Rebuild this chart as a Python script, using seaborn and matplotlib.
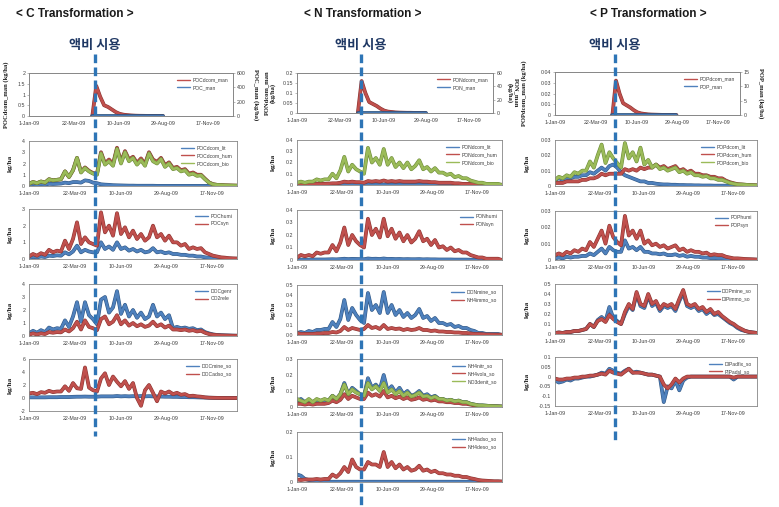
import matplotlib
matplotlib.use("Agg")
import matplotlib.pyplot as plt
import matplotlib.patheffects as pe
from matplotlib.lines import Line2D
import seaborn as sns
import pandas as pd

sns.set_theme(style="white")
plt.rcParams["font.family"] = ["Liberation Sans", "Noto Sans CJK KR", "DejaVu Sans"]

# weekly model output for 2009 (kg/ha)
weeks = pd.date_range("2009-01-01", periods=53, freq="7D")
man_weeks = pd.date_range("2009-04-24", periods=19, freq="7D")
fert_date = pd.Timestamp("2009-04-29")
tick_dates = pd.to_datetime(["2009-01-01", "2009-03-22", "2009-06-10", "2009-08-29", "2009-11-17"])

# ---- C transformation
POCdcom_man = [0, 1.4, 0.9, 0.5, 0.42, 0.3, 0.18, 0.1, 0.06, 0.04,
               0.025, 0.015, 0.01, 0.008, 0.005, 0.004, 0.003, 0.002, 0.001]
POC_man = [0, 0, 0, 0, 0, 0, 0, 0, 0, 0, 0, 0, 0, 0, 0, 0, 0, 0, 0]
POCdcom_lit = [0.1, 0.15, 0.1, 0.15, 0.12, 0.2, 0.18, 0.2, 0.22, 0.3,
               0.25, 0.35, 0.35, 0.3, 0.5, 0.45, 0.3, 0.25, 0.15, 0.12,
               0.1, 0.07, 0.06, 0.05, 0.04, 0.03, 0.03, 0.02, 0.02, 0.02,
               0.02, 0.02, 0.01, 0.01, 0.01, 0.01, 0.01, 0.01, 0.01, 0.01,
               0.01, 0.01, 0.01, 0.01, 0.01, 0.01, 0.01, 0.01, 0.01, 0.01,
               0.01, 0.01, 0.01]
POCdcom_hum = [0.2, 0.35, 0.25, 0.4, 0.3, 0.6, 0.5, 0.55, 0.6, 1.3,
               0.8, 1.4, 2.5, 1.25, 1.65, 1.35, 1.15, 1.1, 3.0, 2.0,
               2.35, 1.95, 3.4, 2.15, 3.1, 2.35, 2.6, 2.05, 2.45, 1.95,
               3.0, 2.35, 2.15, 2.5, 1.85, 2.1, 1.6, 1.7, 1.4, 1.5,
               1.1, 1.2, 1.0, 1.0, 0.65, 0.32, 0.16, 0.1, 0.08, 0.06,
               0.05, 0.04, 0.03]
POCdcom_bio = [0.2, 0.35, 0.25, 0.4, 0.3, 0.6, 0.5, 0.55, 0.6, 1.3,
               0.8, 1.4, 2.5, 1.2, 1.6, 1.3, 1.1, 1.0, 2.9, 1.9,
               2.2, 1.8, 3.3, 2.0, 3.0, 2.2, 2.5, 1.9, 2.3, 1.8,
               2.9, 2.2, 2.0, 2.4, 1.7, 2.0, 1.5, 1.6, 1.3, 1.4,
               1.0, 1.1, 0.9, 0.95, 0.6, 0.3, 0.15, 0.1, 0.08, 0.06,
               0.05, 0.04, 0.03]
POChumi = [0.08, 0.12, 0.1, 0.15, 0.12, 0.2, 0.18, 0.22, 0.2, 0.4,
           0.28, 0.45, 0.8, 0.4, 0.55, 0.45, 0.4, 0.4, 1.0, 0.6,
           0.75, 0.55, 1.0, 0.6, 0.7, 0.5, 0.6, 0.45, 0.55, 0.4,
           0.45, 0.65, 0.4, 0.45, 0.35, 0.4, 0.3, 0.3, 0.25, 0.25,
           0.2, 0.2, 0.15, 0.15, 0.1, 0.08, 0.05, 0.04, 0.03, 0.02,
           0.02, 0.01, 0.01]
POCsyn = [0.15, 0.3, 0.2, 0.35, 0.25, 0.55, 0.4, 0.5, 0.45, 1.1,
          0.6, 1.2, 2.2, 0.9, 1.3, 1.0, 0.9, 0.8, 2.8, 1.6,
          2.0, 1.4, 2.75, 1.5, 1.9, 1.3, 1.7, 1.2, 1.5, 1.1,
          1.3, 2.0, 1.3, 1.5, 1.1, 1.4, 1.0, 1.0, 0.8, 0.9,
          0.6, 0.7, 0.6, 0.65, 0.4, 0.3, 0.2, 0.15, 0.1, 0.08,
          0.05, 0.04, 0.03]
DOCgenr = [0.2, 0.4, 0.25, 0.45, 0.3, 0.65, 0.5, 0.6, 0.55, 1.2,
           0.7, 1.5, 2.6, 1.1, 2.6, 1.6, 1.3, 0.9, 2.8, 3.0,
           1.8, 2.2, 3.45, 1.7, 2.4, 1.5, 2.0, 1.4, 1.8, 1.3,
           1.5, 2.4, 1.5, 1.8, 1.3, 1.6, 0.6, 0.7, 0.6, 0.65,
           0.55, 0.6, 0.45, 0.5, 0.3, 0.2, 0.12, 0.08, 0.06, 0.05,
           0.04, 0.03, 0.02]
CO2rele = [0.1, 0.2, 0.12, 0.2, 0.15, 0.3, 0.25, 0.3, 0.28, 0.5,
           0.35, 0.6, 1.1, 0.5, 1.2, 0.7, 0.6, 0.45, 1.3, 1.5,
           0.9, 1.1, 1.6, 0.9, 1.2, 0.8, 1.0, 0.75, 0.9, 0.7,
           0.8, 1.1, 0.75, 0.9, 0.65, 0.8, 0.5, 0.5, 0.45, 0.5,
           0.4, 0.45, 0.35, 0.4, 0.25, 0.15, 0.1, 0.07, 0.05, 0.04,
           0.03, 0.02, 0.02]
DOCmine_so = [0.1, 0.1, 0.1, 0.1, 0.1, 0.12, 0.12, 0.12, 0.15, 0.15,
              0.15, 0.18, 0.2, 0.2, 0.22, 0.2, 0.2, 0.2, 0.25, 0.25,
              0.25, 0.25, 0.3, 0.25, 0.28, 0.25, 0.28, 0.25, 0.3, 0.25,
              0.28, 0.25, 0.25, 0.22, 0.2, 0.2, 0.18, 0.18, 0.15, 0.15,
              0.12, 0.12, 0.1, 0.08, 0.06, 0.04, 0.03, 0.02, 0.01, 0.01,
              0.0, 0.0, 0.0]
DOCadso_so = [0.7, 0.8, 0.6, 0.9, 0.8, 1.1, 0.9, 1.0, 1.0, 1.8,
              1.1, 2.3, 1.5, 1.4, 4.7, 1.6, 1.2, 1.0, 3.0, 3.8,
              2.0, 3.3, 2.5, 1.8, 2.6, 1.4, 2.3, 0.0, -1.2, 1.2,
              2.0, 0.8, -0.5, 1.0, 0.7, 1.0, 0.6, 0.8, 0.5, 0.6,
              0.3, 0.35, 0.25, 0.2, 0.1, 0.05, 0.03, 0.02, 0.01, 0.0,
              0.0, 0.0, 0.0]

# ---- N transformation
PONdcom_man = [0, 0.16, 0.1, 0.055, 0.045, 0.035, 0.022, 0.012, 0.007, 0.005,
               0.003, 0.002, 0.0015, 0.001, 0.001, 0.0005, 0.0003, 0.0002, 0.0001]
PON_man = [0, 0, 0, 0, 0, 0, 0, 0, 0, 0, 0, 0, 0, 0, 0, 0, 0, 0, 0]
PONdcom_lit = [0.003, 0.004, 0.003, 0.004, 0.003, 0.004, 0.004, 0.005, 0.005, 0.006,
               0.005, 0.006, 0.008, 0.006, 0.007, 0.006, 0.005, 0.004, 0.004, 0.003,
               0.003, 0.003, 0.003, 0.002, 0.002, 0.002, 0.002, 0.002, 0.002, 0.001,
               0.001, 0.001, 0.001, 0.001, 0.001, 0.001, 0.001, 0.001, 0.001, 0.001,
               0.001, 0.001, 0.001, 0.001, 0.001, 0.001, 0.0, 0.0, 0.0, 0.0,
               0.0, 0.0, 0.0]
PONdcom_hum = [0.005, 0.005, 0.005, 0.008, 0.008, 0.01, 0.01, 0.01, 0.012, 0.015,
               0.015, 0.02, 0.03, 0.025, 0.03, 0.025, 0.025, 0.02, 0.035, 0.03,
               0.035, 0.03, 0.04, 0.03, 0.035, 0.03, 0.035, 0.03, 0.03, 0.03,
               0.03, 0.035, 0.03, 0.03, 0.025, 0.025, 0.02, 0.02, 0.02, 0.02,
               0.015, 0.015, 0.01, 0.01, 0.01, 0.008, 0.005, 0.005, 0.003, 0.003,
               0.002, 0.002, 0.002]
PONdcom_bio = [0.02, 0.03, 0.02, 0.03, 0.03, 0.05, 0.04, 0.05, 0.05, 0.1,
               0.06, 0.13, 0.25, 0.12, 0.18, 0.14, 0.12, 0.1, 0.33, 0.2,
               0.24, 0.18, 0.32, 0.18, 0.24, 0.16, 0.2, 0.15, 0.2, 0.14,
               0.17, 0.22, 0.14, 0.16, 0.12, 0.15, 0.11, 0.11, 0.09, 0.1,
               0.07, 0.08, 0.06, 0.06, 0.04, 0.03, 0.02, 0.02, 0.01, 0.01,
               0.01, 0.01, 0.0]
PONhumi = [0.002, 0.003, 0.002, 0.003, 0.003, 0.004, 0.004, 0.004, 0.005, 0.006,
           0.005, 0.007, 0.01, 0.007, 0.009, 0.008, 0.007, 0.006, 0.012, 0.009,
           0.01, 0.008, 0.012, 0.008, 0.009, 0.007, 0.008, 0.006, 0.007, 0.006,
           0.006, 0.007, 0.005, 0.006, 0.005, 0.005, 0.004, 0.004, 0.004, 0.004,
           0.003, 0.003, 0.003, 0.003, 0.002, 0.002, 0.001, 0.001, 0.001, 0.001,
           0.001, 0.0, 0.0]
PONsyn = [0.02, 0.04, 0.03, 0.04, 0.03, 0.06, 0.05, 0.06, 0.06, 0.12,
          0.07, 0.14, 0.26, 0.12, 0.2, 0.15, 0.12, 0.1, 0.33, 0.2,
          0.25, 0.18, 0.33, 0.19, 0.25, 0.17, 0.22, 0.15, 0.2, 0.14,
          0.17, 0.23, 0.15, 0.17, 0.12, 0.16, 0.1, 0.11, 0.08, 0.1,
          0.07, 0.08, 0.06, 0.06, 0.04, 0.03, 0.02, 0.02, 0.01, 0.01,
          0.01, 0.01, 0.0]
DONmine_so = [0.02, 0.03, 0.02, 0.04, 0.03, 0.05, 0.05, 0.06, 0.06, 0.13,
              0.08, 0.16, 0.35, 0.15, 0.27, 0.2, 0.15, 0.12, 0.42, 0.25,
              0.3, 0.22, 0.43, 0.22, 0.3, 0.2, 0.25, 0.18, 0.22, 0.17,
              0.2, 0.26, 0.17, 0.19, 0.14, 0.17, 0.12, 0.12, 0.1, 0.11,
              0.08, 0.09, 0.07, 0.07, 0.05, 0.04, 0.02, 0.02, 0.01, 0.01,
              0.01, 0.01, 0.0]
NH4immo_so = [0.02, 0.01, 0.01, 0.01, 0.01, 0.015, 0.015, 0.02, 0.02, 0.03,
              0.025, 0.04, 0.08, 0.05, 0.07, 0.06, 0.05, 0.06, 0.1, 0.07,
              0.08, 0.06, 0.1, 0.06, 0.07, 0.06, 0.065, 0.05, 0.06, 0.05,
              0.055, 0.07, 0.05, 0.05, 0.04, 0.045, 0.035, 0.035, 0.03, 0.03,
              0.025, 0.025, 0.02, 0.02, 0.015, 0.01, 0.01, 0.008, 0.005, 0.005,
              0.004, 0.003, 0.003]
NH4nitr_so = [0.04, 0.05, 0.03, 0.04, 0.03, 0.04, 0.03, 0.04, 0.04, 0.07,
              0.05, 0.08, 0.15, 0.08, 0.12, 0.1, 0.08, 0.07, 0.18, 0.12,
              0.14, 0.11, 0.2, 0.1, 0.13, 0.09, 0.12, 0.08, 0.1, 0.07,
              0.08, 0.1, 0.07, 0.08, 0.06, 0.07, 0.05, 0.05, 0.04, 0.045,
              0.035, 0.04, 0.03, 0.03, 0.02, 0.015, 0.01, 0.01, 0.008, 0.006,
              0.005, 0.004, 0.003]
NH4vola_so = [0.02, 0.02, 0.015, 0.02, 0.015, 0.02, 0.02, 0.02, 0.025, 0.04,
              0.03, 0.045, 0.08, 0.05, 0.07, 0.06, 0.05, 0.05, 0.09, 0.07,
              0.08, 0.065, 0.1, 0.06, 0.07, 0.055, 0.065, 0.05, 0.06, 0.045,
              0.05, 0.06, 0.045, 0.05, 0.04, 0.045, 0.035, 0.035, 0.03, 0.03,
              0.025, 0.025, 0.02, 0.02, 0.015, 0.01, 0.008, 0.006, 0.005, 0.004,
              0.003, 0.003, 0.002]
NO3denit_so = [0.05, 0.04, 0.03, 0.05, 0.03, 0.05, 0.04, 0.05, 0.04, 0.07,
               0.05, 0.08, 0.14, 0.08, 0.11, 0.09, 0.08, 0.07, 0.15, 0.11,
               0.13, 0.1, 0.15, 0.09, 0.11, 0.08, 0.1, 0.07, 0.09, 0.065,
               0.075, 0.09, 0.065, 0.07, 0.055, 0.065, 0.05, 0.05, 0.04, 0.045,
               0.035, 0.04, 0.03, 0.03, 0.02, 0.015, 0.01, 0.01, 0.008, 0.006,
               0.005, 0.004, 0.003]
NH4adso_so = [0.03, 0.025, 0.012, 0.008, 0.005, 0.003, 0.002, 0.002, 0.001, 0.001,
              0.001, 0.001, 0.001, 0.001, 0.001, 0.001, 0.001, 0.001, 0.001, 0.001,
              0.001, 0.001, 0.001, 0.001, 0.001, 0.001, 0.001, 0.001, 0.001, 0.001,
              0.001, 0.001, 0.001, 0.001, 0.001, 0.001, 0.001, 0.001, 0.001, 0.001,
              0.001, 0.001, 0.001, 0.001, 0.001, 0.001, 0.001, 0.001, 0.001, 0.001,
              0.001, 0.001, 0.001]
NH4deso_so = [0.01, 0.008, 0.01, 0.01, 0.01, 0.012, 0.01, 0.012, 0.012, 0.03,
              0.02, 0.035, 0.06, 0.04, 0.09, 0.06, 0.05, 0.05, 0.08, 0.07,
              0.07, 0.06, 0.12, 0.06, 0.08, 0.055, 0.07, 0.05, 0.06, 0.045,
              0.05, 0.065, 0.045, 0.05, 0.04, 0.045, 0.035, 0.035, 0.03, 0.03,
              0.025, 0.025, 0.02, 0.02, 0.015, 0.012, 0.008, 0.006, 0.005, 0.004,
              0.003, 0.003, 0.002]

# ---- P transformation
POPdcom_man = [0, 0.032, 0.02, 0.011, 0.009, 0.007, 0.0045, 0.0025, 0.0015, 0.001,
               0.0006, 0.0004, 0.0003, 0.0002, 0.0001, 0.0001, 0.0, 0.0, 0.0]
POP_man = [0, 0, 0, 0, 0, 0, 0, 0, 0, 0, 0, 0, 0, 0, 0, 0, 0, 0, 0]
POPdcom_lit = [0.004, 0.005, 0.004, 0.005, 0.005, 0.006, 0.006, 0.007, 0.007, 0.009,
               0.008, 0.01, 0.012, 0.01, 0.013, 0.014, 0.012, 0.009, 0.007, 0.006,
               0.005, 0.004, 0.003, 0.003, 0.002, 0.002, 0.0015, 0.0012, 0.001, 0.001,
               0.0008, 0.0008, 0.0006, 0.0006, 0.0005, 0.0005, 0.0004, 0.0004, 0.0003, 0.0003,
               0.0003, 0.0002, 0.0002, 0.0002, 0.0002, 0.0001, 0.0001, 0.0001, 0.0001, 0.0001,
               0.0001, 0.0001, 0.0001]
POPdcom_hum = [0.002, 0.002, 0.002, 0.003, 0.003, 0.003, 0.003, 0.004, 0.004, 0.005,
               0.005, 0.006, 0.008, 0.007, 0.008, 0.008, 0.008, 0.008, 0.011, 0.01,
               0.011, 0.01, 0.012, 0.011, 0.012, 0.012, 0.014, 0.012, 0.013, 0.011,
               0.012, 0.013, 0.01, 0.011, 0.009, 0.01, 0.008, 0.008, 0.007, 0.007,
               0.006, 0.006, 0.005, 0.005, 0.0035, 0.0025, 0.0018, 0.0012, 0.001, 0.0008,
               0.0006, 0.0005, 0.0004]
POPdcom_bio = [0.004, 0.006, 0.005, 0.007, 0.006, 0.009, 0.008, 0.01, 0.01, 0.016,
               0.012, 0.02, 0.027, 0.015, 0.022, 0.018, 0.015, 0.012, 0.028, 0.018,
               0.022, 0.016, 0.025, 0.014, 0.017, 0.012, 0.014, 0.011, 0.012, 0.01,
               0.011, 0.012, 0.009, 0.01, 0.008, 0.009, 0.007, 0.007, 0.006, 0.0065,
               0.005, 0.005, 0.004, 0.004, 0.003, 0.002, 0.0015, 0.001, 0.001, 0.0008,
               0.0006, 0.0005, 0.0004]
POPhumi = [0.001, 0.0015, 0.001, 0.002, 0.0015, 0.002, 0.002, 0.0025, 0.0025, 0.004,
           0.003, 0.005, 0.007, 0.004, 0.008, 0.006, 0.005, 0.005, 0.012, 0.007,
           0.008, 0.006, 0.008, 0.005, 0.005, 0.004, 0.004, 0.0035, 0.004, 0.003,
           0.003, 0.0035, 0.0025, 0.003, 0.002, 0.0025, 0.002, 0.002, 0.0015, 0.0015,
           0.0012, 0.0012, 0.001, 0.001, 0.0008, 0.0006, 0.0004, 0.0004, 0.0003, 0.0002,
           0.0002, 0.0002, 0.0001]
POPsyn = [0.003, 0.004, 0.003, 0.005, 0.004, 0.006, 0.005, 0.007, 0.006, 0.011,
          0.008, 0.013, 0.018, 0.01, 0.021, 0.014, 0.011, 0.009, 0.027, 0.015,
          0.018, 0.013, 0.018, 0.01, 0.012, 0.009, 0.01, 0.008, 0.009, 0.007,
          0.008, 0.009, 0.006, 0.007, 0.005, 0.006, 0.005, 0.005, 0.004, 0.0045,
          0.003, 0.0035, 0.003, 0.003, 0.002, 0.0015, 0.001, 0.001, 0.0008, 0.0006,
          0.0005, 0.0004, 0.0003]
DOPmine_so = [0.01, 0.015, 0.01, 0.02, 0.02, 0.03, 0.03, 0.04, 0.05, 0.1,
              0.07, 0.14, 0.17, 0.13, 0.27, 0.16, 0.13, 0.1, 0.2, 0.28,
              0.24, 0.4, 0.28, 0.26, 0.38, 0.28, 0.31, 0.23, 0.28, 0.26,
              0.28, 0.23, 0.33, 0.41, 0.28, 0.26, 0.28, 0.23, 0.25, 0.2,
              0.23, 0.19, 0.2, 0.17, 0.14, 0.11, 0.09, 0.06, 0.04, 0.03,
              0.02, 0.015, 0.01]
DIPimmo_so = [0.01, 0.015, 0.01, 0.02, 0.02, 0.03, 0.03, 0.04, 0.05, 0.1,
              0.07, 0.13, 0.15, 0.12, 0.19, 0.15, 0.12, 0.1, 0.22, 0.3,
              0.25, 0.42, 0.3, 0.28, 0.4, 0.3, 0.33, 0.25, 0.3, 0.28,
              0.3, 0.25, 0.35, 0.44, 0.3, 0.28, 0.3, 0.25, 0.27, 0.22,
              0.25, 0.2, 0.22, 0.18, 0.15, 0.12, 0.1, 0.07, 0.05, 0.03,
              0.02, 0.015, 0.01]
DIPadfix_so = [-0.02, -0.03, -0.025, -0.015, -0.02, -0.01, -0.01, -0.005, 0.0, 0.0,
               0.005, 0.01, 0.02, 0.015, 0.04, 0.03, 0.02, 0.015, 0.03, 0.04,
               0.02, 0.025, 0.02, 0.015, 0.01, 0.01, 0.005, 0.0, -0.13, -0.05,
               -0.06, -0.02, -0.07, -0.02, -0.005, 0.0, 0.0, 0.0, 0.0, 0.0,
               0.0, 0.0, 0.0, 0.0, 0.0, 0.0, -0.015, 0.0, 0.0, 0.0,
               0.0, 0.0, 0.0]
PIPadsl_so = [-0.01, -0.015, -0.015, -0.01, -0.01, -0.005, -0.005, 0.0, 0.0, 0.005,
              0.005, 0.01, 0.015, 0.01, 0.03, 0.02, 0.015, 0.01, 0.025, 0.04,
              0.02, 0.02, 0.02, 0.015, 0.01, 0.01, 0.005, 0.0, -0.04, -0.06,
              -0.04, -0.01, -0.03, -0.01, 0.0, 0.0, 0.0, 0.0, 0.0, 0.0,
              0.0, 0.0, 0.0, 0.0, 0.0, 0.0, -0.005, 0.0, 0.0, 0.0,
              0.0, 0.0, 0.0]

BLUE, RED, GREEN = "#4F81BD", "#C0504D", "#9BBB59"
EDGE = {BLUE: "#2F5683", RED: "#8A3330", GREEN: "#6C8A38"}
LW = 1.9

W, H = 779, 507
fig = plt.figure(figsize=(W / 100, H / 100), dpi=100)


def box(x0, y0, x1, y1):
    return fig.add_axes([x0 / W, 1 - y1 / H, (x1 - x0) / W, (y1 - y0) / H])


def tidy(ax, ylim, yticks, fmt="{:g}"):
    ax.set_xlim(pd.Timestamp("2009-01-01"), pd.Timestamp("2009-12-31"))
    ax.set_xticks(tick_dates)
    ax.set_xticklabels([f"{d.day}-{d:%b-%y}" for d in tick_dates])
    ax.set_ylim(*ylim)
    ax.set_yticks(yticks)
    ax.set_yticklabels([fmt.format(v) for v in yticks])
    ax.tick_params(labelsize=3.8, length=1.5, width=0.4, pad=1.2,
                   color="#868686", labelcolor="#404040")
    ax.tick_params(axis="x", pad=2)
    for s in ax.spines.values():
        s.set_color("#868686")
        s.set_linewidth(0.6)
    ax.grid(False)


def draw(ax, x, series):
    for name, vals, col in series:
        sns.lineplot(x=x, y=vals, ax=ax, color=col, linewidth=LW,
                     estimator=None, errorbar=None, legend=False)
        ax.lines[-1].set_path_effects(
            [pe.Stroke(linewidth=LW + 0.8, foreground=EDGE[col]), pe.Normal()])
    ax.set_xlabel("")
    ax.set_ylabel("")


def legend(ax, lines, names):
    handles = [Line2D([], [], color=ln.get_color(), linewidth=1.0) for ln in lines]
    ax.legend(handles, names, loc="upper right", bbox_to_anchor=(0.99, 0.97),
              frameon=False, fontsize=3.6, handlelength=2.6, handletextpad=0.5,
              labelspacing=0.55, borderaxespad=0.2, labelcolor="#404040")


def ylab(ax, text, xoff, size=5.2):
    ax.set_ylabel(text, family="Liberation Serif", weight="bold",
                  fontsize=size, color="#1a1a1a")
    ax.yaxis.set_label_coords(xoff, 0.5)


def panel(pos, series, ylim, yticks, xoff, fmt="{:g}"):
    ax = box(*pos)
    draw(ax, weeks, series)
    tidy(ax, ylim, yticks, fmt)
    legend(ax, ax.lines, [s[0] for s in series])
    ylab(ax, "kg/ha", xoff)
    return ax


def manure_panel(pos, left, right, ylim, yticks, rlim, rticks, lname, rname, lx, rx):
    ax = box(*pos)
    draw(ax, man_weeks, [left])
    tidy(ax, ylim, yticks)
    tw = ax.twinx()
    draw(tw, man_weeks, [right])
    tidy(tw, rlim, rticks)
    legend(tw, ax.lines + tw.lines, [left[0], right[0]])
    ylab(ax, lname, lx, 4.7)
    tw.set_ylabel(rname, family="Liberation Serif", weight="bold",
                  fontsize=4.7, color="#1a1a1a", rotation=270, va="bottom")
    tw.yaxis.set_label_coords(rx, 0.5)
    return ax


# ---- C column
c_top = manure_panel((29, 73, 233, 116), ("POCdcom_man", POCdcom_man, RED),
                     ("POC_man", POC_man, BLUE), (0, 2), [0, 0.5, 1, 1.5, 2],
                     (0, 600), [0, 200, 400, 600],
                     "POCdcom_man (kg/ha)", "POC_man (kg/ha)", -0.1, 1.1)
panel((29, 141, 237, 186), [("POCdcom_lit", POCdcom_lit, BLUE),
                            ("POCdcom_hum", POCdcom_hum, RED),
                            ("POCdcom_bio", POCdcom_bio, GREEN)],
      (0, 4), [0, 1, 2, 3, 4], -0.08)
panel((29, 209, 237, 259), [("POChumi", POChumi, BLUE), ("POCsyn", POCsyn, RED)],
      (0, 3), [0, 1, 2, 3], -0.08)
panel((29, 284, 237, 336), [("DOCgenr", DOCgenr, BLUE), ("CO2rele", CO2rele, RED)],
      (0, 4), [0, 1, 2, 3, 4], -0.08)
panel((29, 359, 237, 411), [("DOCmine_so", DOCmine_so, BLUE),
                            ("DOCadso_so", DOCadso_so, RED)],
      (-2, 6), [-2, 0, 2, 4, 6], -0.08)

# ---- N column
n_top = manure_panel((297, 73, 493, 113), ("PONdcom_man", PONdcom_man, RED),
                     ("PON_man", PON_man, BLUE), (0, 0.2), [0, 0.05, 0.1, 0.15, 0.2],
                     (0, 60), [0, 20, 40, 60],
                     "PONdcom_man\n(kg/ha)", "PON_man\n(kg/ha)", -0.11, 1.07)
panel((297, 140, 502, 185), [("PONdcom_lit", PONdcom_lit, BLUE),
                             ("PONdcom_hum", PONdcom_hum, RED),
                             ("PONdcom_bio", PONdcom_bio, GREEN)],
      (0, 0.4), [0, 0.1, 0.2, 0.3, 0.4], -0.105)
panel((297, 210, 502, 260), [("PONhumi", PONhumi, BLUE), ("PONsyn", PONsyn, RED)],
      (0, 0.4), [0, 0.1, 0.2, 0.3, 0.4], -0.105)
panel((297, 285, 502, 335), [("DONmine_so", DONmine_so, BLUE),
                             ("NH4immo_so", NH4immo_so, RED)],
      (0, 0.5), [0, 0.1, 0.2, 0.3, 0.4, 0.5], -0.105, "{:.1f}")
panel((297, 359, 502, 407), [("NH4nitr_so", NH4nitr_so, BLUE),
                             ("NH4vola_so", NH4vola_so, RED),
                             ("NO3denit_so", NO3denit_so, GREEN)],
      (0, 0.3), [0, 0.1, 0.2, 0.3], -0.105)
panel((297, 432, 502, 482), [("NH4adso_so", NH4adso_so, BLUE),
                             ("NH4deso_so", NH4deso_so, RED)],
      (0, 0.2), [0, 0.1, 0.2], -0.105)

# ---- P column
p_top = manure_panel((555, 72, 740, 115), ("POPdcom_man", POPdcom_man, RED),
                     ("POP_man", POP_man, BLUE), (0, 0.04), [0, 0.01, 0.02, 0.03, 0.04],
                     (0, 15), [0, 5, 10, 15],
                     "POPdcom_man (kg/ha)", "POP_man (kg/ha)", -0.15, 1.1)
panel((555, 140, 757, 186), [("POPdcom_lit", POPdcom_lit, BLUE),
                             ("POPdcom_hum", POPdcom_hum, RED),
                             ("POPdcom_bio", POPdcom_bio, GREEN)],
      (0, 0.03), [0, 0.01, 0.02, 0.03], -0.125)
panel((555, 211, 757, 260), [("POPhumi", POPhumi, BLUE), ("POPsyn", POPsyn, RED)],
      (0, 0.03), [0, 0.01, 0.02, 0.03], -0.125)
panel((555, 284, 757, 334), [("DOPmine_so", DOPmine_so, BLUE),
                             ("DIPimmo_so", DIPimmo_so, RED)],
      (0, 0.5), [0, 0.1, 0.2, 0.3, 0.4, 0.5], -0.125)
panel((555, 357, 757, 406), [("DIPadfix_so", DIPadfix_so, BLUE),
                             ("PIPadsl_so", PIPadsl_so, RED)],
      (-0.15, 0.1), [-0.15, -0.1, -0.05, 0, 0.05, 0.1], -0.125)

# column headings, application label and dashed application line
for top, title, tx, y_end in [(c_top, "< C Transformation >", 75, 436),
                              (n_top, "< N Transformation >", 363, 505),
                              (p_top, "< P Transformation >", 648, 442)]:
    fig.text(tx / W, 1 - 14 / H, title, ha="center", va="center",
             fontsize=8.5, weight="bold", color="#1a1a1a")
    xd = top.transData.transform((matplotlib.dates.date2num(fert_date), 0))[0] / fig.bbox.width
    fig.text(xd, 1 - 45 / H, "액비 시용", ha="center", va="center",
             fontsize=9.5, weight="bold", color="#1F3864",
             family=["Noto Sans CJK KR", "DejaVu Sans"])
    fig.add_artist(Line2D([xd, xd], [1 - 54 / H, 1 - y_end / H],
                          transform=fig.transFigure, color="#2E75B6",
                          linewidth=2.4, linestyle=(0, (2.6, 1.3)), zorder=10))

fig.savefig("out.png", dpi=100)
